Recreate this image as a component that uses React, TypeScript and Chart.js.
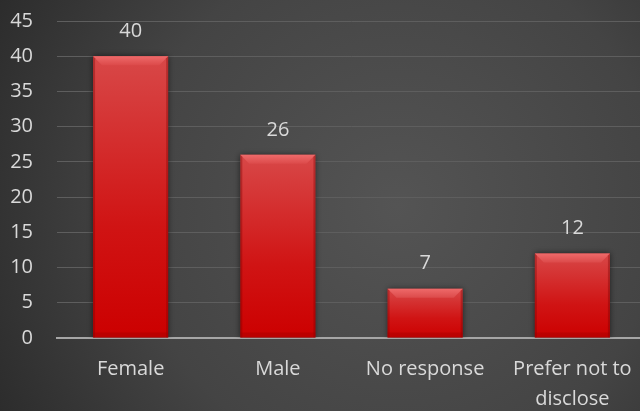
import React, { useEffect, useRef } from "react";
import { Chart, registerables } from "chart.js";

Chart.register(...registerables);

const categories: (string | string[])[] = ["Female", "Male", "No response", ["Prefer not to", "disclose"]];
const values: number[] = [40, 26, 7, 12];
const yMax = 45;
const yStep = 5;

const FONT = "'Open Sans', 'Noto Sans', sans-serif";
const TEXT = "#d9d9d9";

const bgPlugin = {
  id: "bgPlugin",
  beforeDraw(chart: any) {
    const { ctx, height } = chart;
    const w = 640;
    ctx.save();
    const g = ctx.createRadialGradient(w * 0.62, height * 0.5, 0, w * 0.62, height * 0.5, w * 0.75);
    g.addColorStop(0, "#545454");
    g.addColorStop(0.55, "#444444");
    g.addColorStop(1, "#282828");
    ctx.fillStyle = g;
    ctx.fillRect(0, 0, chart.width, height);
    ctx.restore();
  },
  beforeDatasetsDraw(chart: any) {
    const ctx = chart.ctx;
    ctx.save();
    ctx.shadowColor = "rgba(0,0,0,0.55)";
    ctx.shadowBlur = 6;
    ctx.shadowOffsetX = 0;
    ctx.shadowOffsetY = 0;
  },
  afterDatasetsDraw(chart: any) {
    const ctx = chart.ctx;
    ctx.restore();
    const meta = chart.getDatasetMeta(0);
    meta.data.forEach((bar: any, i: number) => {
      const { x, y, base, width } = bar.getProps(["x", "y", "base", "width"], true);
      const l = x - width / 2;
      const r = x + width / 2;
      const bev = Math.min(9, (base - y) / 3);
      ctx.save();
      const tg = ctx.createLinearGradient(0, y, 0, y + bev);
      tg.addColorStop(0, "#ee6a6a");
      tg.addColorStop(1, "#dc4a4a");
      ctx.fillStyle = tg;
      ctx.beginPath();
      ctx.moveTo(l, y);
      ctx.lineTo(r, y);
      ctx.lineTo(r - bev, y + bev);
      ctx.lineTo(l + bev, y + bev);
      ctx.closePath();
      ctx.fill();
      ctx.fillStyle = "rgba(120,0,0,0.35)";
      ctx.beginPath();
      ctx.moveTo(l, y);
      ctx.lineTo(l + 2, y + 2);
      ctx.lineTo(l + 2, base);
      ctx.lineTo(l, base);
      ctx.closePath();
      ctx.fill();
      ctx.beginPath();
      ctx.moveTo(r, y);
      ctx.lineTo(r - 2, y + 2);
      ctx.lineTo(r - 2, base);
      ctx.lineTo(r, base);
      ctx.closePath();
      ctx.fill();
      ctx.fillStyle = "rgba(150,0,0,0.3)";
      ctx.fillRect(l, base - 5, width, 5);
      ctx.fillStyle = TEXT;
      ctx.font = `20px ${FONT}`;
      ctx.textAlign = "center";
      ctx.textBaseline = "middle";
      ctx.fillText(String(values[i]), x, y - 25);
      ctx.restore();
    });
  },
};

export default function App() {
  const ref = useRef<HTMLCanvasElement | null>(null);
  useEffect(() => {
    document.body.style.margin = "0";
    document.body.style.overflow = "hidden";
    document.documentElement.style.overflow = "hidden";
    const canvas = ref.current!;
    const chart = new Chart(canvas, {
      type: "bar",
      data: {
        labels: categories as any,
        datasets: [
          {
            data: values,
            barPercentage: 0.51,
            categoryPercentage: 1,
            backgroundColor: (c: any) => {
              const ys = c.chart.scales?.y;
              const ctx = c.chart.ctx;
              if (!ys || c.raw === undefined) return "#d00000";
              const top = ys.getPixelForValue(c.raw);
              const bot = ys.getPixelForValue(0);
              if (!isFinite(top) || !isFinite(bot) || top === bot) return "#d00000";
              const g = ctx.createLinearGradient(0, top, 0, bot);
              g.addColorStop(0, "#d84848");
              g.addColorStop(0.6, "#d01414");
              g.addColorStop(1, "#cc0000");
              return g;
            },
            borderWidth: 0,
          },
        ],
      },
      options: {
        responsive: false,
        animation: false,
        devicePixelRatio: 1,
        layout: { padding: { top: 21, left: 0, right: 0, bottom: 0 } },
        plugins: { legend: { display: false }, tooltip: { enabled: false } },
        scales: {
          x: {
            grid: { display: false, drawTicks: false },
            border: { color: "#a6a6a6", width: 2 },
            ticks: { color: TEXT, font: { family: FONT, size: 20, lineHeight: 1.5 }, padding: 16, maxRotation: 0, autoSkip: false },
            afterFit: (s: any) => { s.height = 73; s.paddingLeft = 0; s.paddingRight = 0; },
          },
          y: {
            min: 0,
            max: yMax,
            grid: { color: "#5e5e5e", lineWidth: 1, drawTicks: false },
            border: { display: false },
            ticks: { stepSize: yStep, color: TEXT, font: { family: FONT, size: 20 }, padding: 24 },
            afterFit: (s: any) => { s.width = 57; s.paddingTop = 0; s.paddingBottom = 0; },
          },
        },
      },
      plugins: [bgPlugin],
    } as any);
    return () => chart.destroy();
  }, []);
  return (
    <div style={{ width: 640, height: 411, overflow: "hidden" }}>
      <canvas ref={ref} width={646} height={411} style={{ display: "block" }} />
    </div>
  );
}
